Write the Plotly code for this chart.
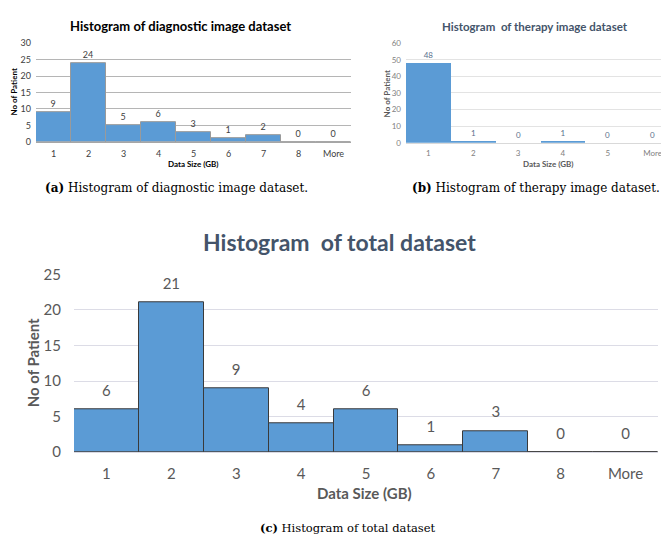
import plotly.graph_objects as go

W, H = 669, 547

# ---- data ----
cats_a = ["1", "2", "3", "4", "5", "6", "7", "8", "More"]
vals_a = [9, 24, 5, 6, 3, 1, 2, 0, 0]

cats_b = ["1", "2", "3", "4", "5", "More"]
vals_b = [48, 1, 0, 1, 0, 0]

cats_c = ["1", "2", "3", "4", "5", "6", "7", "8", "More"]
vals_c = [6, 21, 9, 4, 6, 1, 3, 0, 0]

yticks_a = [0, 5, 10, 15, 20, 25, 30]
yticks_b = [0, 10, 20, 30, 40, 50, 60]
yticks_c = [0, 5, 10, 15, 20, 25]


def px(x):
    return x / W


def py(y):
    return 1 - y / H


SANS = "Lato, 'Open Sans', sans-serif"
SERIF = "'DejaVu Serif', serif"
BLUE = "#5B9BD5"

fig = go.Figure()

fig.add_trace(go.Bar(
    x=cats_a, y=vals_a, xaxis="x", yaxis="y",
    marker=dict(color=BLUE, line=dict(color="#9A9A9A", width=1)),
    text=[str(v) for v in vals_a], textposition="outside",
    textfont=dict(family=SANS, size=9, color="#404040"),
    cliponaxis=False, hoverinfo="skip"))

fig.add_trace(go.Bar(
    x=cats_b, y=vals_b, xaxis="x2", yaxis="y2",
    marker=dict(color=BLUE, line=dict(color=BLUE, width=0)),
    text=[str(v) for v in vals_b], textposition="outside",
    textfont=dict(family=SANS, size=8, color="#5A6F8C"),
    cliponaxis=False, hoverinfo="skip"))

fig.add_trace(go.Bar(
    x=cats_c, y=vals_c, xaxis="x3", yaxis="y3",
    marker=dict(color=BLUE, line=dict(color="#3A3A3A", width=1)),
    hoverinfo="skip"))

# data labels for (c), lifted a little above the bars
fig.add_trace(go.Scatter(
    x=cats_c, y=vals_c, xaxis="x3", yaxis="y3",
    mode="markers+text", text=[str(v) for v in vals_c],
    textposition="top center",
    marker=dict(size=14, color="rgba(0,0,0,0)"),
    textfont=dict(family=SANS, size=15, color="#595959"),
    cliponaxis=False, hoverinfo="skip"))

common_x = dict(type="category", showgrid=False, zeroline=False,
                ticks="", fixedrange=True)
common_y = dict(showline=False, zeroline=False, ticks="", fixedrange=True)

fig.update_layout(
    width=W, height=H,
    margin=dict(l=0, r=0, t=0, b=0),
    paper_bgcolor="white", plot_bgcolor="white",
    showlegend=False, bargap=0,
    xaxis=dict(common_x, domain=[px(28), px(343)], range=[-0.5, 8.5],
               anchor="y", showline=True, linecolor="#A6A6A6",
               tickfont=dict(family=SANS, size=9, color="#404040"),
               ticklabelstandoff=3),
    yaxis=dict(common_y, domain=[py(128), py(26)], range=[0, 30],
               anchor="x", tickvals=yticks_a, gridcolor="#B5B5B5",
               tickfont=dict(family=SANS, size=9, color="#404040"),
               ticklabelstandoff=4),
    xaxis2=dict(common_x, domain=[px(398), px(667)], range=[-0.5, 5.5],
                anchor="y2", showline=True, linecolor="#D9D9D9",
                tickfont=dict(family=SANS, size=8, color="#7F7F7F"),
                ticklabelstandoff=3),
    yaxis2=dict(common_y, domain=[py(129), py(26)], range=[0, 60],
                anchor="x2", tickvals=yticks_b, gridcolor="#E3E3E3",
                tickfont=dict(family=SANS, size=8, color="#7F7F7F"),
                ticklabelstandoff=4),
    xaxis3=dict(common_x, domain=[px(66), px(650)], range=[-0.5, 8.5],
                anchor="y3", showline=True, linecolor="#D9D9E3",
                tickfont=dict(family=SANS, size=15, color="#595959"),
                ticklabelstandoff=8),
    yaxis3=dict(common_y, domain=[py(449), py(265)], range=[0, 25],
                anchor="x3", tickvals=yticks_c, gridcolor="#DCDCE6",
                tickfont=dict(family=SANS, size=15, color="#595959"),
                ticklabelstandoff=12),
)

ann = []


def add(text, x, y, size, color, family=SANS, angle=0):
    ann.append(dict(text=text, x=px(x), y=py(y), xref="paper", yref="paper",
                    xanchor="center", yanchor="middle", showarrow=False,
                    textangle=angle,
                    font=dict(family=family, size=size, color=color)))


# titles
add("<b>Histogram of diagnostic image dataset</b>", 172, 8, 13, "#000000")
add("<b>Histogram  of therapy image dataset</b>", 527, 9, 11.5, "#44546A")
add("<b>Histogram  of total dataset</b>", 331, 232, 23, "#44546A")

# axis titles
add("<b>Data Size (GB)</b>", 185, 151, 8, "#000000")
add("<b>No of Patient</b>", 6, 77, 8, "#000000", angle=-90)
add("<b>Data Size (GB)</b>", 540, 151, 8, "#595959")
add("<b>No of Patient</b>", 379, 79, 8, "#595959", angle=-90)
add("<b>Data Size (GB)</b>", 356, 491, 15, "#595959")
add("<b>No of Patient</b>", 25, 357, 15, "#595959", angle=-90)

# captions
add("<b>(a)</b> Histogram of diagnostic image dataset.", 168, 176, 12, "#000000", SERIF)
add("<b>(b)</b> Histogram of therapy image dataset.", 528, 176, 12, "#000000", SERIF)
add("<b>(c)</b> Histogram of total dataset", 340, 527, 11.5, "#000000", SERIF)

fig.update_layout(annotations=ann)

fig.write_html("out.html")
